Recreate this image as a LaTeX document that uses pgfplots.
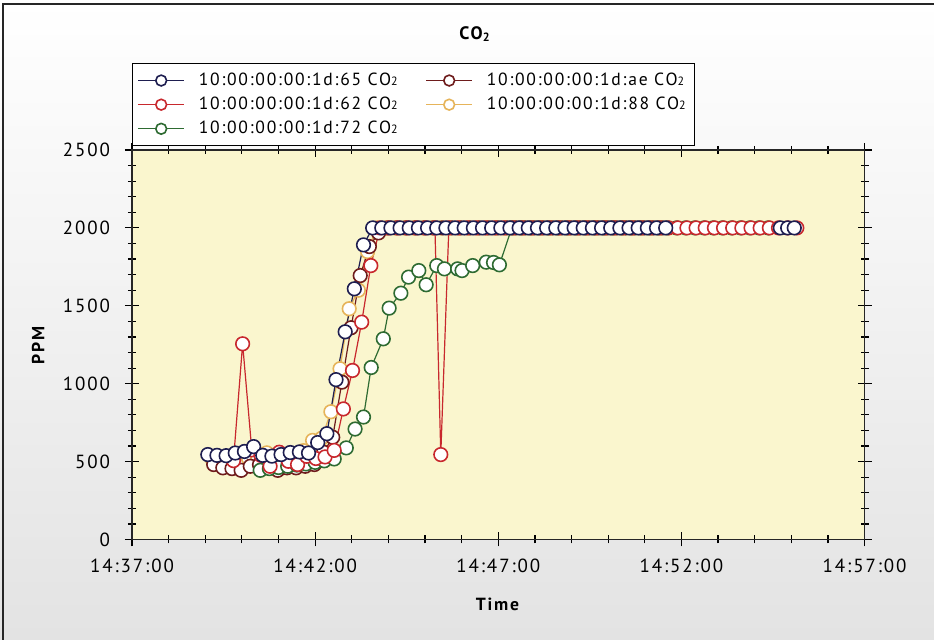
\documentclass[border=0pt]{standalone}
\usepackage{pgfplots}
\pgfplotsset{compat=1.18}
\usepackage{fontspec}
\setmainfont{PT Sans}[LetterSpace=10]
\definecolor{c65}{HTML}{1E1E50}
\definecolor{c62}{HTML}{C8282D}
\definecolor{c72}{HTML}{2E6B32}
\definecolor{cae}{HTML}{6E1C1C}
\definecolor{c88}{HTML}{E6B45A}
\definecolor{plotbg}{HTML}{FAF6CE}
\newcommand{\sub}[1]{{\fontsize{6pt}{6pt}\selectfont #1}}
\pgfplotsset{
  sbase/.style={line width=0.6pt, mark=*, mark size=3.4pt, mark options={fill=white, line width=0.8pt, solid}},
  s65/.style={sbase, color=c65},
  s62/.style={sbase, color=c62},
  s72/.style={sbase, color=c72},
  sae/.style={sbase, color=cae},
  s88/.style={sbase, color=c88},
}
\begin{document}
\begin{tikzpicture}
\path[use as bounding box] (0,0) rectangle (467pt,320pt);
\shade[top color=white, bottom color=black!11] (0,0) rectangle (467pt,320pt);
\draw[black!85, line width=0.9pt] (1.5pt,0) -- (1.5pt,318pt) -- (467pt,318pt);
\node[font=\fontsize{9}{10}\selectfont\bfseries] at (237.5pt,303pt) {CO\textsubscript{2}};
\begin{axis}[
  at={(66pt,50.25pt)}, anchor=south west,
  scale only axis, width=366.3pt, height=194.75pt,
  xmin=0, xmax=20, ymin=0, ymax=2500,
  axis background/.style={fill=plotbg},
  axis line style={line width=0.8pt, black!85},
  xtick={0,5,10,15,20},
  xticklabels={14:37:00,14:42:00,14:47:00,14:52:00,14:57:00},
  minor x tick num=4,
  ytick={0,500,1000,1500,2000,2500},
  yticklabels={0,500,1000,1500,2000,2500},
  minor y tick num=4,
  tick align=center,
  major tick length=7pt, minor tick length=4pt,
  every tick/.style={black, line width=0.6pt},
  ticklabel style={font=\fontsize{9.5}{11}\selectfont},
  xticklabel style={yshift=-2.5pt},
  yticklabel style={xshift=-4pt},
  xlabel={\textbf{Time}},
  xlabel style={at={(axis description cs:0.5,-0.1656)}, anchor=center, font=\fontsize{8.8}{10}\selectfont},
  ylabel={\textbf{PPM}},
  ylabel style={at={(axis description cs:-0.1283,0.5)}, anchor=center, font=\fontsize{8.8}{10}\selectfont},
  legend columns=2,
  legend cell align=left,
  legend image code/.code={\draw[mark repeat=2,mark phase=2,#1,mark size=2.7pt] plot coordinates {(0pt,0pt) (11.5pt,0pt) (23pt,0pt)};},
  legend style={at={(0,1.2229)}, anchor=north west, draw=black, line width=0.6pt, fill=white,
    font=\fontsize{8.8}{10}\selectfont, inner sep=2.5pt, row sep=0.3pt,
    /tikz/column 1/.style={column sep=5pt},
    /tikz/column 3/.style={column sep=5pt},
    /tikz/column 2/.style={column sep=12pt}},
]
\addlegendimage{s65}\addlegendentry{10:00:00:00:1d:65 CO\sub{2}}
\addlegendimage{sae}\addlegendentry{10:00:00:00:1d:ae CO\sub{2}}
\addlegendimage{s62}\addlegendentry{10:00:00:00:1d:62 CO\sub{2}}
\addlegendimage{s88}\addlegendentry{10:00:00:00:1d:88 CO\sub{2}}
\addlegendimage{s72}\addlegendentry{10:00:00:00:1d:72 CO\sub{2}}

% 1d:88 (orange)
\addplot[s88, forget plot] coordinates {
(2.18,520)(2.43,505)(2.68,495)(2.93,502)(3.18,520)(3.43,530)(3.68,556)(3.93,515)(4.18,505)(4.43,520)(4.68,570)(4.93,636)(5.18,650)(5.43,820)(5.68,1096)(5.93,1481)(6.18,1600)(6.43,1848)
(6.68,2000)(6.93,2000)(7.18,2000)(7.43,2000)(7.68,2000)(7.93,2000)(8.18,2000)(8.43,2000)(8.68,2000)(8.93,2000)(9.18,2000)(9.43,2000)(9.68,2000)(9.93,2000)(10.18,2000)(10.43,2000)(10.68,2000)(10.93,2000)(11.18,2000)(11.43,2000)(11.68,2000)(11.93,2000)(12.18,2000)(12.43,2000)(12.68,2000)(12.93,2000)(13.18,2000)(13.43,2000)(13.68,2000)(13.93,2000)(14.18,2000)(14.43,2000)
};
% 1d:ae (maroon)
\addplot[sae, forget plot] coordinates {
(2.23,481)(2.48,460)(2.73,455)(2.98,444)(3.23,470)(3.48,480)(3.73,470)(3.98,444)(4.23,460)(4.48,460)(4.73,470)(4.98,481)(5.23,560)(5.48,656)(5.73,1010)(5.98,1359)(6.23,1694)(6.48,1880)(6.73,1968)
(6.98,2000)(7.23,2000)(7.48,2000)(7.73,2000)(7.98,2000)(8.23,2000)(8.48,2000)(8.73,2000)(8.98,2000)(9.23,2000)(9.48,2000)(9.73,2000)(9.98,2000)(10.23,2000)(10.48,2000)(10.73,2000)(10.98,2000)(11.23,2000)(11.48,2000)(11.73,2000)(11.98,2000)(12.23,2000)(12.48,2000)(12.73,2000)(12.98,2000)(13.23,2000)(13.48,2000)(13.73,2000)(13.98,2000)(14.23,2000)(14.48,2000)
};
% 1d:72 (green)
\addplot[s72, forget plot] coordinates {
(3.5,444)(3.75,455)(4.0,462)(4.25,470)(4.5,478)(4.75,485)(5.0,495)(5.25,505)(5.52,517)(5.85,588)(6.09,709)(6.32,786)(6.53,1104)(6.86,1288)(7.02,1485)(7.34,1581)(7.55,1684)(7.83,1726)(8.03,1635)(8.32,1758)(8.53,1737)(8.89,1737)(9.01,1726)(9.3,1758)(9.67,1780)(9.87,1778)(10.03,1763)
(10.37,2000)(10.62,2000)(10.87,2000)(11.12,2000)(11.37,2000)(11.62,2000)(11.87,2000)(12.12,2000)(12.37,2000)(12.62,2000)(12.87,2000)(13.12,2000)(13.37,2000)(13.62,2000)(13.87,2000)(14.12,2000)(14.37,2000)(14.62,2000)(14.87,2000)(15.12,2000)(15.37,2000)(15.62,2000)(15.87,2000)(16.12,2000)(16.37,2000)(16.62,2000)(16.87,2000)(17.12,2000)(17.37,2000)
};
% 1d:62 (red)
\addplot[s62, forget plot] coordinates {
(2.77,506)(3.02,1256)(3.27,575)(3.52,540)(3.77,470)(4.02,560)(4.27,502)(4.52,481)(4.77,534)(5.02,520)(5.27,530)(5.52,572)(5.77,838)(6.02,1085)(6.27,1395)(6.52,1758)
(6.77,2000)(7.02,2000)(7.27,2000)(7.52,2000)(7.77,2000)(8.02,2000)(8.27,2000)(8.43,545)
(8.65,2000)(8.9,2000)(9.15,2000)(9.4,2000)(9.65,2000)(9.9,2000)(10.15,2000)(10.4,2000)(10.65,2000)(10.9,2000)(11.15,2000)(11.4,2000)(11.65,2000)(11.9,2000)(12.15,2000)(12.4,2000)(12.65,2000)(12.9,2000)(13.15,2000)(13.4,2000)(13.65,2000)(13.9,2000)(14.15,2000)(14.4,2000)(14.65,2000)(14.9,2000)(15.15,2000)(15.4,2000)(15.65,2000)(15.9,2000)(16.15,2000)(16.4,2000)(16.65,2000)(16.9,2000)(17.15,2000)(17.4,2000)(17.65,2000)(17.9,2000)(18.15,2000)
};
% 1d:65 (navy)
\addplot[s65, forget plot] coordinates {
(2.07,545)(2.32,540)(2.57,538)(2.82,555)(3.07,565)(3.32,596)(3.57,540)(3.82,535)(4.07,545)(4.32,558)(4.57,562)(4.82,555)(5.07,622)(5.32,679)(5.57,1026)(5.82,1333)(6.07,1609)(6.32,1891)
(6.57,2000)(6.82,2000)(7.07,2000)(7.32,2000)(7.57,2000)(7.82,2000)(8.07,2000)(8.32,2000)(8.57,2000)(8.82,2000)(9.07,2000)(9.32,2000)(9.57,2000)(9.82,2000)(10.07,2000)(10.32,2000)(10.57,2000)(10.82,2000)(11.07,2000)(11.32,2000)(11.57,2000)(11.82,2000)(12.07,2000)(12.32,2000)(12.57,2000)(12.82,2000)(13.07,2000)(13.32,2000)(13.57,2000)(13.82,2000)(14.07,2000)(14.32,2000)(14.57,2000)
(17.7,2000)(17.9,2000)(18.08,2000)
};
\end{axis}
\end{tikzpicture}
\end{document}
